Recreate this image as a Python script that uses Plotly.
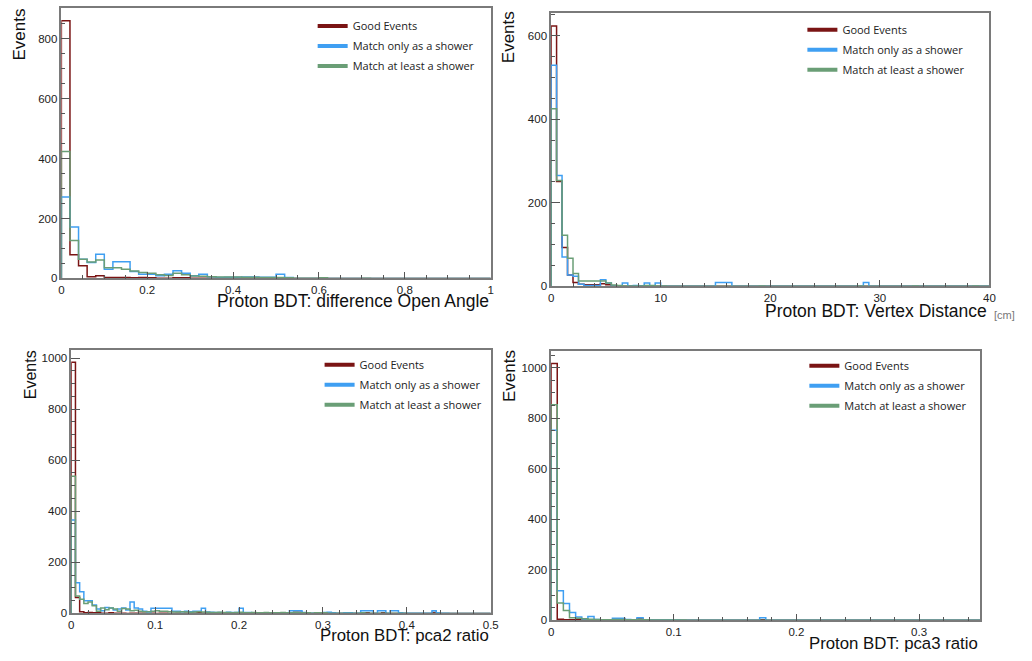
import numpy as np
import plotly.graph_objects as go

# ---------------- data ----------------
series_names = ["Good Events", "Match only as a shower", "Match at least a shower"]
series_colors = ["#7a1414", "#3f9ff2", "#6a9e76"]

# Panel 1: difference Open Angle, 50 bins on [0, 1]
p1_range = [0.0, 1.0]
p1_nbins = 50
p1_good = [860, 79, 42, 6, 9, 3, 3, 3, 2, 3, 2, 1, 1, 2, 2, 1, 1, 1, 0, 1,
           0, 1, 1, 0, 1, 2, 0, 0, 0, 0, 0, 0, 0, 0, 0, 0, 0, 0, 0, 0,
           0, 0, 0, 0, 0, 0, 0, 0, 0, 0]
p1_only = [272, 172, 64, 53, 81, 31, 56, 56, 23, 14, 14, 9, 14, 26, 17, 9, 14, 6, 3, 4,
           4, 5, 5, 4, 4, 14, 3, 0, 0, 0, 0, 0, 0, 0, 0, 0, 0, 0, 0, 0,
           0, 0, 0, 0, 0, 0, 0, 0, 0, 0]
p1_least = [424, 127, 64, 55, 62, 36, 36, 31, 25, 20, 17, 12, 10, 17, 12, 8, 7, 6, 5, 5,
            5, 4, 4, 3, 3, 3, 2, 1, 1, 1, 2, 0, 0, 0, 0, 1, 0, 0, 0, 0,
            0, 0, 0, 0, 0, 0, 0, 0, 0, 0]

# Panel 2: Vertex Distance [cm], 80 bins on [0, 40]
p2_range = [0.0, 40.0]
p2_nbins = 80
p2_good = [623, 251, 93, 27, 9, 5, 4, 4, 4, 6, 4, 1, 1, 0, 1, 1, 1, 1, 0, 0] + [0] * 60
p2_only = ([529, 265, 70, 27, 24, 5, 2, 2, 2, 16, 8, 1, 0, 8, 1, 2, 1, 8, 1, 8]
           + [0] * 10 + [9, 9, 9] + [0] * 24 + [9] + [0] * 22)
p2_least = ([425, 253, 122, 67, 31, 13, 13, 13, 13, 13, 8, 3, 2, 1, 1, 1, 1, 2, 2, 1]
            + [1] + [0] * 17 + [1] + [0] * 17 + [1] + [0] * 9 + [1] + [0] * 10 + [1] + [0] * 2)

# Panel 3: pca2 ratio, 100 bins on [0, 0.5]
p3_range = [0.0, 0.5]
p3_nbins = 100
p3_good = ([983, 62, 6, 2, 3, 2, 2, 1, 1, 2, 1, 1, 1, 0, 1, 1, 1, 1, 0, 1,
            0, 1, 1, 0, 0, 1, 0, 1, 0, 1, 3, 1, 0, 0, 0, 0, 0, 0, 0, 0]
           + [0] * 13 + [4, 4] + [0] * 15 + [2] + [0] * 3 + [2] + [0] * 11 + [3] + [0] * 13)
p3_only = ([366, 120, 85, 49, 49, 33, 17, 10, 23, 21, 13, 17, 21, 13, 45, 21, 17, 8, 5, 20,
            20, 20, 20, 20, 8, 8, 6, 8, 6, 8, 8, 20, 5, 4, 3, 3, 2, 4, 3, 3,
            20, 3, 3, 2, 2, 2, 1, 1, 2, 2, 2, 1, 10, 10, 10, 3, 1, 1, 2, 2,
            3, 4, 2, 1, 1, 2, 2, 1, 1, 10, 10, 10, 0, 10, 10, 0, 10, 10, 2, 1,
            1, 1, 1, 1, 1, 1, 10, 2, 1, 1, 0, 0, 0, 0, 0, 0, 0, 0, 0, 0])
p3_least = ([537, 68, 55, 39, 45, 30, 8, 21, 14, 21, 17, 8, 19, 17, 10, 12, 8, 6, 6, 8,
             10, 8, 8, 6, 5, 5, 6, 5, 4, 5, 6, 5, 4, 3, 3, 4, 3, 3, 2, 3,
             4, 2, 2, 3, 2, 2, 3, 2, 2, 2, 3, 2, 2, 3, 2, 2, 2, 1, 2, 2,
             2, 1, 1, 1, 1, 1, 1, 1, 1, 2, 1, 1, 1, 1, 1, 1, 1, 1, 1, 1]
            + [0] * 20)

# Panel 4: pca3 ratio, 70 bins on [0, 0.35]
p4_range = [0.0, 0.35]
p4_nbins = 70
p4_good = [1016, 4, 2, 2, 3, 1, 1, 1, 0, 0, 1, 5, 1, 0, 5, 1, 0, 0, 0, 0] + [0] * 14 + [2] + [0] * 35
p4_only = [752, 117, 67, 31, 13, 5, 15, 3, 2, 2, 8, 8, 3, 2, 10, 2, 1, 1, 1, 1] + [1] + [0] * 13 + [10] + [0] * 35
p4_least = [853, 69, 39, 10, 8, 6, 4, 3, 2, 2, 3, 3, 2, 2, 3, 2, 1, 1, 1, 1] + [1, 1] + [0] * 48

panels = [
    dict(rng=p1_range, nb=p1_nbins, vals=[p1_good, p1_only, p1_least],
         xdom=[59, 493], ydom=[8, 281], xdt=0.2, xminor=0.05, ydt=200, yminor=50,
         xtitle="Proton BDT: difference Open Angle", xt_y=304, xt_size=17.5,
         yt_x=17, yt_y=35, yt_size=17, leg=(313, 11.5)),
    dict(rng=p2_range, nb=p2_nbins, vals=[p2_good, p2_only, p2_least],
         xdom=[554, 997], ydom=[13, 289], xdt=10, xminor=2, ydt=200, yminor=50,
         xtitle="Proton BDT: Vertex Distance", xt_y=314, xt_size=17.5,
         yt_x=511, yt_y=38, yt_size=17, leg=(808, 15.5)),
    dict(rng=p3_range, nb=p3_nbins, vals=[p3_good, p3_only, p3_least],
         xdom=[69, 493], ydom=[353, 619], xdt=0.1, xminor=0.02, ydt=200, yminor=50,
         xtitle="Proton BDT: pca2 ratio", xt_y=641, xt_size=16.8,
         yt_x=28, yt_y=378, yt_size=16, leg=(320, 353.5)),
    dict(rng=p4_range, nb=p4_nbins, vals=[p4_good, p4_only, p4_least],
         xdom=[554, 988], ydom=[354, 626], xdt=0.1, xminor=0.02, ydt=200, yminor=50,
         xtitle="Proton BDT: pca3 ratio", xt_y=649, xt_size=16.8,
         yt_x=512, yt_y=380, yt_size=17, leg=(810, 354.5)),
]

W, H = 1032, 661
fig = go.Figure()
layout = dict(width=W, height=H, margin=dict(l=0, r=0, t=0, b=0),
              paper_bgcolor="white", plot_bgcolor="white", showlegend=True,
              annotations=[])

axis_common = dict(showline=True, linecolor="#7a7a7a", linewidth=1.5, mirror=True,
                   ticks="inside", tickcolor="#555", tickwidth=1, showgrid=False,
                   zeroline=False,
                   tickfont=dict(family="Liberation Sans, Arial", size=11.5, color="#222"))

for i, p in enumerate(panels):
    k = "" if i == 0 else str(i + 1)
    edges = np.linspace(p["rng"][0], p["rng"][1], p["nb"] + 1)
    ymax = 1.05 * max(max(v) for v in p["vals"])
    for j, vals in enumerate(p["vals"]):
        v = np.asarray(vals, dtype=float)
        xs = np.concatenate([[edges[0]], edges, [edges[-1]]])
        ys = np.concatenate([[0.0], v, [v[-1], 0.0]])
        fig.add_trace(go.Scatter(x=xs, y=ys, mode="lines", line_shape="hv",
                                 line=dict(color=series_colors[j], width=1.5),
                                 xaxis="x" + k, yaxis="y" + k, showlegend=False,
                                 hoverinfo="skip"))
    # legend-only entries (thicker line as in the reference legend)
    for j in range(3):
        fig.add_trace(go.Scatter(x=[None], y=[None], mode="lines", name=series_names[j],
                                 line=dict(color=series_colors[j], width=4),
                                 xaxis="x" + k, yaxis="y" + k, showlegend=True,
                                 legend="legend" + k, legendgroup="g%d_%d" % (i, j)))
    layout["xaxis" + k] = dict(axis_common, domain=[p["xdom"][0] / W, p["xdom"][1] / W],
                               anchor="y" + k, range=p["rng"], dtick=p["xdt"], tick0=0,
                               ticklen=7,
                               minor=dict(ticks="inside", dtick=p["xminor"], tick0=0,
                                          ticklen=4, tickcolor="#555"))
    layout["yaxis" + k] = dict(axis_common, domain=[1 - p["ydom"][1] / H, 1 - p["ydom"][0] / H],
                               anchor="x" + k, range=[0, ymax], dtick=p["ydt"], tick0=0,
                               ticklen=9,
                               minor=dict(ticks="inside", dtick=p["yminor"], tick0=0,
                                          ticklen=4, tickcolor="#555"))
    layout["legend" + k] = dict(x=p["leg"][0] / W, y=1 - p["leg"][1] / H, xanchor="left",
                                yanchor="top", bgcolor="rgba(0,0,0,0)", borderwidth=0,
                                font=dict(family="Open Sans", size=11, color="#222"),
                                traceorder="grouped", tracegroupgap=1)
    layout["annotations"].append(dict(text=p["xtitle"], xref="paper", yref="paper",
                                      x=p["xdom"][1] / W, y=1 - p["xt_y"] / H,
                                      xanchor="right", yanchor="middle", showarrow=False,
                                      font=dict(family="Liberation Sans, Arial",
                                                size=p["xt_size"], color="#111")))
    layout["annotations"].append(dict(text="Events", xref="paper", yref="paper",
                                      x=p["yt_x"] / W, y=1 - p["yt_y"] / H, textangle=-90,
                                      xanchor="center", yanchor="middle", showarrow=False,
                                      font=dict(family="Liberation Sans, Arial",
                                                size=p["yt_size"], color="#111")))

layout["annotations"].append(dict(text="[cm]", xref="paper", yref="paper",
                                  x=1000 / W, y=1 - 318 / H, xanchor="left", yanchor="middle",
                                  showarrow=False,
                                  font=dict(family="Liberation Sans, Arial", size=11,
                                            color="#777")))

fig.update_layout(**layout)
fig.write_html("out.html")
